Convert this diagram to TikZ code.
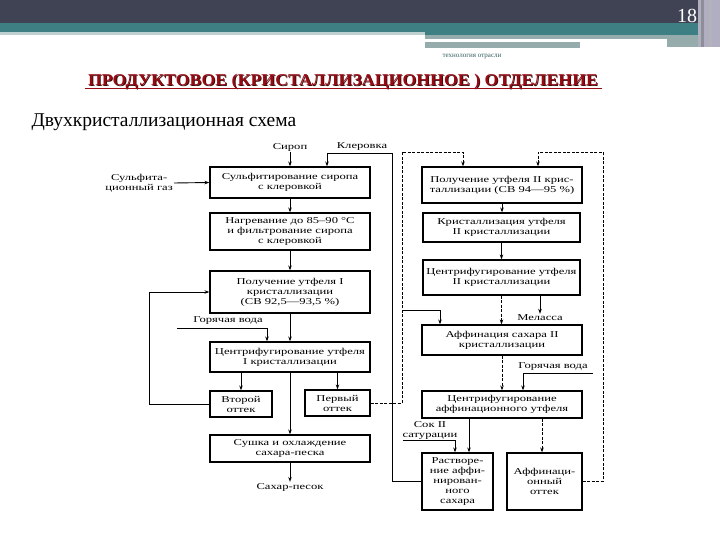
\documentclass[tikz,border=0pt]{standalone}
\usepackage{fontspec}
\setmainfont{Liberation Serif}
\newfontfamily\boxfont[FakeStretch=1.4]{Liberation Serif}
\newfontfamily\titlefont[FakeStretch=1.08]{Liberation Serif}
\usetikzlibrary{arrows.meta}
\definecolor{hdark}{RGB}{64,67,84}
\definecolor{hteal}{RGB}{61,127,130}
\definecolor{hlight}{RGB}{190,208,208}
\definecolor{hgrey}{RGB}{150,172,172}
\definecolor{hstripe}{RGB}{176,174,192}
\definecolor{titlered}{RGB}{150,10,20}
\definecolor{titleshadow}{RGB}{60,10,10}
\definecolor{smallteal}{RGB}{50,90,90}
\tikzset{
  box/.style={draw, line width=1.2pt, fill=white, inner sep=0pt, align=center,
    font=\boxfont\fontsize{9}{10}\selectfont},
  lbl/.style={inner sep=1pt, align=center, font=\boxfont\fontsize{9}{10}\selectfont},
  arr/.style={-{Stealth[length=5pt,width=3.5pt]}, line width=0.9pt},
  dsh/.style={dash pattern=on 3pt off 1.5pt}
}
\begin{document}
\begin{tikzpicture}[x=1pt,y=-1pt]
\useasboundingbox (0,0) rectangle (720,540);
% header
\fill[hdark] (0,0) rectangle (720,23);
\fill[hteal] (0,23) rectangle (720,32);
\fill[hlight] (0,32) rectangle (425,35);
\fill[hteal] (425,32) rectangle (700,35);
\fill[hgrey] (425,35) rectangle (700,39);
\fill[white] (425,39) rectangle (667,42);
\fill[hgrey] (667,39) rectangle (700,47);
\fill[hgrey] (425,42) rectangle (580,48);
\fill[hstripe] (698,0) rectangle (720,47);
\fill[hdark!60] (701,0) rectangle (704,47);
\fill[hdark!40] (709,0) rectangle (712,47);
\node[text=white, font=\fontsize{20}{21}\selectfont] (pg) at (687,15.5) {18};
\node[text=smallteal, font=\fontsize{7}{8}\selectfont] (sub0) at (472,57) {технология отрасли};
\node[text=titleshadow, font=\titlefont\bfseries\fontsize{16.5}{17}\selectfont] (titlesh) at (343.8,82.8) {ПРОДУКТОВОЕ (КРИСТАЛЛИЗАЦИОННОЕ ) ОТДЕЛЕНИЕ};
\node[text=titlered, font=\titlefont\bfseries\fontsize{16.5}{17}\selectfont] (title) at (343,82) {ПРОДУКТОВОЕ (КРИСТАЛЛИЗАЦИОННОЕ ) ОТДЕЛЕНИЕ};
\draw[titlered, line width=1pt] (title.west |- 0,89) -- (title.east |- 0,89);
\node[anchor=west, font=\fontsize{19.5}{20}\selectfont] (scheme) at (28,122) {Двухкристаллизационная  схема};

% left column
\node[box, minimum width=160, minimum height=31] (B1) at (290,182.5) {Сульфитирование сиропа\\с клеровкой};
\node[box, minimum width=160, minimum height=37] (B2) at (290,231.5) {Нагревание до 85–90 °С\\и фильтрование сиропа\\с клеровкой};
\node[box, minimum width=160, minimum height=42] (B3) at (290,292) {Получение утфеля I\\кристаллизации\\(СВ 92,5—93,5 \%)};
\node[box, minimum width=160, minimum height=30] (B4) at (290,357) {Центрифугирование утфеля\\I кристаллизации};
\node[box, minimum width=62, minimum height=26] (B5) at (241,404) {Второй\\оттек};
\node[box, minimum width=65, minimum height=26] (B6) at (337.5,403) {Первый\\оттек};
\node[box, minimum width=160, minimum height=27] (B7) at (290,448.5) {Сушка и охлаждение\\сахара-песка};
\node[lbl] (sand) at (290,487) {Сахар-песок};
\node[lbl] (siro) at (290,147) {Сироп};
\node[lbl] (kler) at (362,147) {Клеровка};
\node[lbl, anchor=east] (gas) at (174,183) {Сульфита-\\ционный газ};
\node[lbl] (hw1l) at (228,321) {Горячая вода};

% right column
\node[box, minimum width=160, minimum height=36] (R1) at (502,185) {Получение утфеля II крис-\\таллизации (СВ 94—95 \%)};
\node[box, minimum width=157, minimum height=29] (R2) at (501.5,227.5) {Кристаллизация утфеля\\II кристаллизации};
\node[box, minimum width=157, minimum height=35] (R3) at (501.5,277.5) {Центрифугирование утфеля\\II кристаллизации};
\node[box, minimum width=160, minimum height=30] (R4) at (502,340) {Аффинация сахара II\\кристаллизации};
\node[box, minimum width=160, minimum height=27] (R5) at (502,404.5) {Центрифугирование\\аффинационного утфеля};
\node[box, minimum width=71, minimum height=57] (R6) at (457.5,481.5) {Растворе-\\ние аффи-\\нирован-\\ного\\сахара};
\node[box, minimum width=75, minimum height=57] (R7) at (544.5,481.5) {Аффинаци-\\онный\\оттек};
\node[lbl] (mel) at (540,318) {Меласса};
\node[lbl] (hw2l) at (553,367) {Горячая вода};
\node[lbl] (sokl) at (430,430) {Сок II\\сатурации};

% coordinates
\coordinate (klerC) at (327,153);
\coordinate (gasS) at (174,183);
\coordinate (hw1) at (177,328);
\coordinate (fo) at (402,152);
\coordinate (br) at (402,310);
\coordinate (hw2) at (593,373);
\coordinate (sok) at (403,440);
\coordinate (ao) at (603,152);

% left connectors
\draw[arr] (siro) -- (B1);
\draw[arr] (R6.west) -| (392,153) -- (klerC) -- (klerC |- B1.north);
\draw[arr] (gasS) -- (B1.west);
\draw[arr] (B1) -- (B2);
\draw[arr] (B2) -- (B3);
\draw[arr] (B3) -- (B4);
\draw[arr] (hw1) -| ([xshift=-23]B4.north);
\draw[arr] (B5.north |- B4.south) -- (B5.north);
\draw[arr] (B6.north |- B4.south) -- (B6.north);
\draw[arr] (B4.south) -- (B7.north);
\draw[arr] (B7) -- (sand);
\draw[arr] (B5.west) -- ++(-60,0) |- (B3.west);
\draw[arr, dsh] (B6.east) -| (fo) -| ([xshift=-39]R1.north);
\draw[arr] (br) -| ([xshift=-62]R4.north);

% right connectors
\draw[arr] (R1.south) -- (R1.south |- R2.north);
\draw[arr] (R2.south) -- (R2.south |- R3.north);
\draw[arr, dsh] (R3.south) -- (R3.south |- R4.north);
\draw[arr] ([xshift=38.5]R3.south) -- (mel.north);
\draw[arr] (hw2) -| ([xshift=21]R5.north);
\draw[arr, dsh] (R4.south) -- (R5.north);
\draw[arr] ([xshift=-33]R5.south) -- ([xshift=-33]R5.south |- R6.north);
\draw[arr, dsh] ([xshift=40]R5.south) -- ([xshift=40]R5.south |- R7.north);
\draw[arr] (sok) -| ([xshift=-2.5]R6.north);
\draw[arr, dsh] (R7.east) -| (ao) -| ([xshift=36]R1.north);
\end{tikzpicture}
\end{document}
